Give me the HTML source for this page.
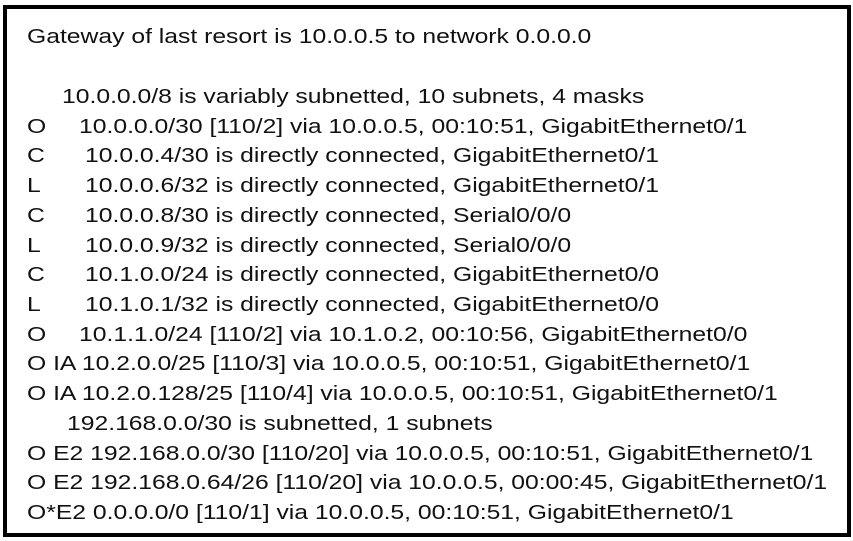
<!DOCTYPE html>
<html><head><meta charset="utf-8"><style>
html,body{margin:0;padding:0;background:#fff;}
#box{position:absolute;left:3px;top:5px;width:840px;height:524px;border:4px solid #000;background:#fff;}
.l{position:absolute;font-family:"Liberation Sans",Arial,sans-serif;font-size:20px;color:#111;white-space:pre;line-height:22px;transform:scaleX(1.235);transform-origin:0 50%;}
</style></head><body>
<div id="box"></div>
<div class="l" style="left:27px;top:26px">Gateway of last resort is 10.0.0.5 to network 0.0.0.0</div>
<div class="l" style="left:62px;top:86px">10.0.0.0/8 is variably subnetted, 10 subnets, 4 masks</div>
<div class="l" style="left:27px;top:116px">O</div>
<div class="l" style="left:79px;top:116px">10.0.0.0/30 [110/2] via 10.0.0.5, 00:10:51, GigabitEthernet0/1</div>
<div class="l" style="left:27px;top:145px">C</div>
<div class="l" style="left:85px;top:145px">10.0.0.4/30 is directly connected, GigabitEthernet0/1</div>
<div class="l" style="left:27px;top:175px">L</div>
<div class="l" style="left:85px;top:175px">10.0.0.6/32 is directly connected, GigabitEthernet0/1</div>
<div class="l" style="left:27px;top:205px">C</div>
<div class="l" style="left:85px;top:205px">10.0.0.8/30 is directly connected, Serial0/0/0</div>
<div class="l" style="left:27px;top:235px">L</div>
<div class="l" style="left:85px;top:235px">10.0.0.9/32 is directly connected, Serial0/0/0</div>
<div class="l" style="left:27px;top:264px">C</div>
<div class="l" style="left:85px;top:264px">10.1.0.0/24 is directly connected, GigabitEthernet0/0</div>
<div class="l" style="left:27px;top:294px">L</div>
<div class="l" style="left:85px;top:294px">10.1.0.1/32 is directly connected, GigabitEthernet0/0</div>
<div class="l" style="left:27px;top:324px">O</div>
<div class="l" style="left:79px;top:324px">10.1.1.0/24 [110/2] via 10.1.0.2, 00:10:56, GigabitEthernet0/0</div>
<div class="l" style="left:27px;top:353px">O IA 10.2.0.0/25 [110/3] via 10.0.0.5, 00:10:51, GigabitEthernet0/1</div>
<div class="l" style="left:27px;top:383px">O IA 10.2.0.128/25 [110/4] via 10.0.0.5, 00:10:51, GigabitEthernet0/1</div>
<div class="l" style="left:67px;top:413px">192.168.0.0/30 is subnetted, 1 subnets</div>
<div class="l" style="left:27px;top:443px">O E2 192.168.0.0/30 [110/20] via 10.0.0.5, 00:10:51, GigabitEthernet0/1</div>
<div class="l" style="left:27px;top:472px">O E2 192.168.0.64/26 [110/20] via 10.0.0.5, 00:00:45, GigabitEthernet0/1</div>
<div class="l" style="left:27px;top:502px">O*E2 0.0.0.0/0 [110/1] via 10.0.0.5, 00:10:51, GigabitEthernet0/1</div>
</body></html>
